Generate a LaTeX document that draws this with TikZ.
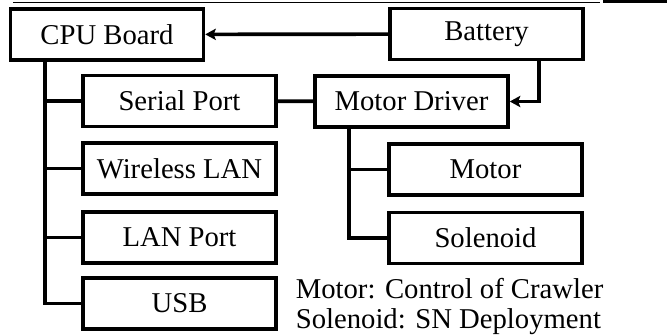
\documentclass[tikz,border=0pt]{standalone}
\usepackage{fontspec}
\setmainfont{Liberation Serif}
\usepackage{tikz}
\usetikzlibrary{arrows.meta}

\begin{document}
\begin{tikzpicture}[x=0.025cm, y=-0.025cm, line width=2.6pt,
  >={Stealth[length=7.5pt,width=8pt,inset=1.5pt]},
  font=\fontsize{20.4}{21.5}\selectfont,
  unit/.style={draw, line width=2.6pt, minimum width=4.82cm, minimum height=1.27cm, inner sep=0pt}]
\useasboundingbox (0,0) rectangle (667,335);
\draw[line width=0.5pt] (13,2) -- (600,2);
\draw[line width=1.5pt] (603,1.5) -- (667,1.5);
\node[unit] (cpu) at (107,34.5) {CPU Board};
\node[unit] (battery) at (486.5,34) {Battery};
\node[unit] (serial) at (179.5,101) {Serial Port};
\node[unit] (mdrv) at (411.5,101.5) {Motor Driver};
\node[unit] (wlan) at (179.5,168.5) {Wireless LAN};
\node[unit] (lan) at (179.5,237.5) {LAN Port};
\node[unit] (usb) at (179.5,303.5) {USB};
\node[unit] (motor) at (485.5,169.5) {Motor};
\node[unit] (solenoid) at (485.5,238) {Solenoid};
\node[anchor=north west, align=left, inner sep=0pt] (legend) at (294,276)
  {Motor: Control of Crawler\\Solenoid: SN Deployment};
\draw[->] (battery) -- (cpu);
\draw[->] ([xshift=1.31cm]battery.south) |- (mdrv.east);
\draw (serial) -- (mdrv);
\coordinate (cputrunk) at ([xshift=-1.55cm]cpu.south);
\draw (cputrunk) |- (usb.west);
\foreach \n in {serial,wlan,lan}
  \draw (\n.west) -- (\n.west -| cputrunk);
\coordinate (drvtrunk) at ([xshift=-1.56cm]mdrv.south);
\draw (drvtrunk) |- (solenoid.west);
\draw (motor.west) -- (motor.west -| drvtrunk);
\end{tikzpicture}
\end{document}
